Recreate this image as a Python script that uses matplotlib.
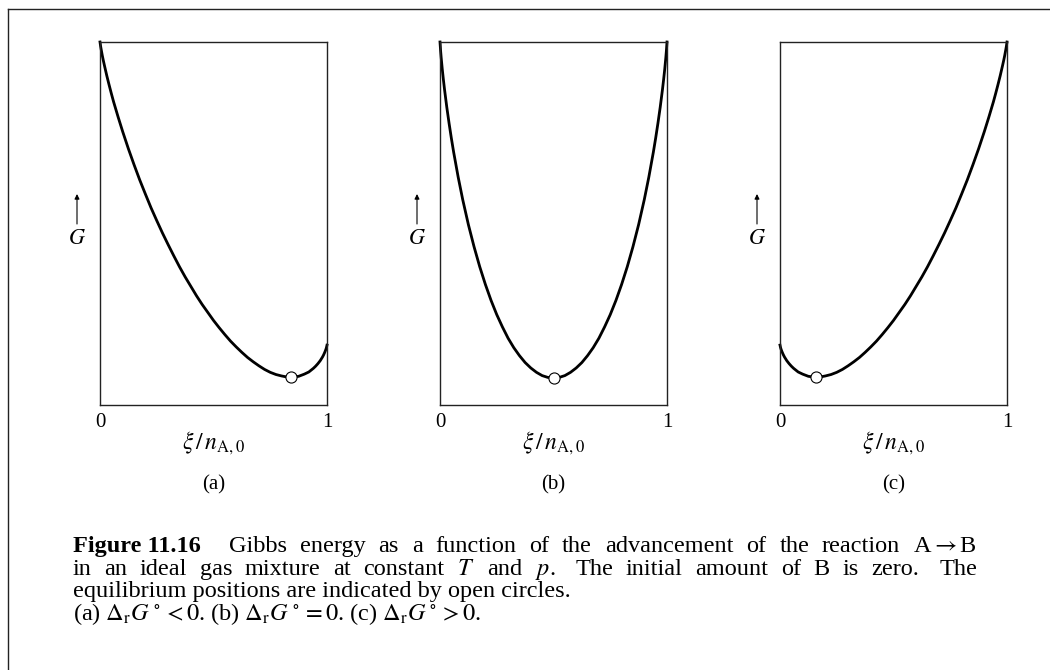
import matplotlib.pyplot as plt
from matplotlib.lines import Line2D

plt.rcParams["font.family"] = ["Liberation Serif", "DejaVu Serif"]
plt.rcParams["mathtext.fontset"] = "stix"

# advancement xi / n_A,0 where the curves were read (same grid for all three)
xi = [0, 0.0025, 0.005, 0.01, 0.015, 0.02, 0.03, 0.04, 0.05, 0.06, 0.08, 0.1,
      0.125, 0.15, 0.175, 0.2, 0.225, 0.25, 0.275, 0.3, 0.325, 0.35, 0.375,
      0.4, 0.425, 0.45, 0.475, 0.5, 0.525, 0.55, 0.575, 0.6, 0.625, 0.65,
      0.675, 0.7, 0.725, 0.75, 0.775, 0.8, 0.825, 0.85, 0.875, 0.9, 0.92,
      0.94, 0.95, 0.96, 0.97, 0.98, 0.985, 0.99, 0.995, 0.9975, 1]

# G, 0 = bottom of frame, 1 = top of frame
g_a = [1.000, 0.989, 0.980, 0.963, 0.948, 0.934, 0.907, 0.882, 0.858, 0.835,
       0.793, 0.753, 0.706, 0.662, 0.620, 0.581, 0.543, 0.508, 0.474, 0.442,
       0.411, 0.381, 0.353, 0.327, 0.301, 0.277, 0.255, 0.233, 0.213, 0.194,
       0.176, 0.160, 0.145, 0.131, 0.119, 0.108, 0.098, 0.090, 0.084, 0.080,
       0.077, 0.077, 0.079, 0.085, 0.091, 0.101, 0.107, 0.114, 0.122, 0.132,
       0.138, 0.145, 0.153, 0.158, 0.165]
g_b = [1.000, 0.977, 0.958, 0.925, 0.896, 0.869, 0.820, 0.776, 0.735, 0.697,
       0.628, 0.566, 0.497, 0.436, 0.381, 0.332, 0.288, 0.249, 0.215, 0.184,
       0.158, 0.136, 0.117, 0.102, 0.090, 0.081, 0.076, 0.075, 0.076, 0.081,
       0.090, 0.102, 0.117, 0.136, 0.158, 0.184, 0.215, 0.249, 0.288, 0.332,
       0.381, 0.436, 0.497, 0.566, 0.628, 0.697, 0.735, 0.776, 0.820, 0.869,
       0.896, 0.925, 0.958, 0.977, 1.000]
g_c = [0.165, 0.158, 0.153, 0.145, 0.138, 0.132, 0.122, 0.114, 0.107, 0.101,
       0.091, 0.085, 0.079, 0.077, 0.077, 0.080, 0.084, 0.090, 0.098, 0.108,
       0.119, 0.131, 0.145, 0.160, 0.176, 0.194, 0.213, 0.233, 0.255, 0.277,
       0.301, 0.327, 0.353, 0.381, 0.411, 0.442, 0.474, 0.508, 0.543, 0.581,
       0.620, 0.662, 0.706, 0.753, 0.793, 0.835, 0.858, 0.882, 0.907, 0.934,
       0.948, 0.963, 0.980, 0.989, 1.000]

# equilibrium positions (open circles)
eq_xi = [0.84, 0.50, 0.16]
eq_g = [0.077, 0.075, 0.077]

panel_labels = ["(a)", "(b)", "(c)"]
x_ticklabels = ["0", "1"]

caption_lead = "Figure 11.16"
caption_lines = [
    "Gibbs energy as a function of the advancement of the reaction A$\\rightarrow$B",
    "in an ideal gas mixture at constant $T$ and $p$.  The initial amount of B is zero.  The",
    "equilibrium positions are indicated by open circles.",
    "(a) $\\Delta_{\\rm r}G^\\circ < 0$. (b) $\\Delta_{\\rm r}G^\\circ = 0$. "
    "(c) $\\Delta_{\\rm r}G^\\circ > 0$.",
]


def line_tokens(line, lead=None):
    toks = []
    gap = 0
    if lead:
        toks.append((lead, "bold", 0))
        gap = 2.2
    for w in line.split(" "):
        if w == "":
            gap += 0.6  # wider space after a full stop
            continue
        toks.append((w, "normal", gap))
        gap = 1
    return toks


def put_line(fig, y, toks, size, x0, x1=None):
    r = fig.canvas.get_renderer()
    fw = fig.bbox.width
    arts = [fig.text(x0, y, t, fontsize=size, fontweight=w, va="baseline")
            for t, w, g in toks]
    widths = [a.get_window_extent(r).width / fw for a in arts]
    gaps = [g for t, w, g in toks]
    space = 0.25 * size * fig.dpi / 72 / fw
    if x1 is not None:
        space = (x1 - x0 - sum(widths)) / sum(gaps)
    x = x0
    for a, wd, g in zip(arts, widths, gaps):
        x += g * space
        a.set_x(x)
        x += wd


def main():
    fig = plt.figure(figsize=(10.5, 6.7), dpi=100)
    W, H = 1050, 670

    # page edges of the scanned figure
    fig.add_artist(Line2D([8 / W, 1], [1 - 9 / H, 1 - 9 / H], color="#222222", lw=1.0))
    fig.add_artist(Line2D([8 / W, 8 / W], [0, 1 - 9 / H], color="#222222", lw=1.0))

    curves = [g_a, g_b, g_c]
    lefts = [100, 440, 780]
    for k in range(3):
        ax = fig.add_axes([lefts[k] / W, 1 - 405 / H, 227 / W, 363 / H])
        ax.plot(xi, curves[k], color="black", lw=2.0, clip_on=False,
                solid_joinstyle="round")
        ax.plot(eq_xi[k], eq_g[k], "o", ms=8, mfc="white", mec="black",
                mew=0.8, zorder=5, clip_on=False)
        ax.set_xlim(0, 1)
        ax.set_ylim(0, 1)
        for s in ax.spines.values():
            s.set_linewidth(1.0)
            s.set_color("#222222")
        ax.set_xticks([0, 1])
        ax.set_xticklabels(x_ticklabels, fontsize=15)
        ax.tick_params(axis="x", length=0, pad=6)
        ax.set_yticks([])

        ax.text(0.5, -38 / 363, "$\\xi\\,/\\,n_{\\rm A,0}$", transform=ax.transAxes,
                ha="center", va="center", fontsize=17)
        ax.text(0.5, -80 / 363, panel_labels[k], transform=ax.transAxes,
                ha="center", va="center", fontsize=15)
        ax.annotate("", xy=(-23 / 227, (405 - 194) / 363),
                    xytext=(-23 / 227, (405 - 224) / 363),
                    xycoords="axes fraction",
                    arrowprops=dict(arrowstyle="-|>", lw=0.8, color="black",
                                    mutation_scale=7, shrinkA=0, shrinkB=0))
        ax.text(-23 / 227, (405 - 240) / 363, "$G$", transform=ax.transAxes,
                ha="center", va="center", fontsize=16)

    x0, x1 = 73 / W, 977 / W
    size = 17.5
    baselines = [552, 575, 597, 620]
    put_line(fig, 1 - baselines[0] / H, line_tokens(caption_lines[0], caption_lead),
             size, x0, x1)
    put_line(fig, 1 - baselines[1] / H, line_tokens(caption_lines[1]), size, x0, x1)
    fig.text(x0, 1 - baselines[2] / H, caption_lines[2], fontsize=size, va="baseline")
    fig.text(x0, 1 - baselines[3] / H, caption_lines[3], fontsize=size, va="baseline")

    fig.savefig("out.png", dpi=100)


if __name__ == "__main__":
    main()
